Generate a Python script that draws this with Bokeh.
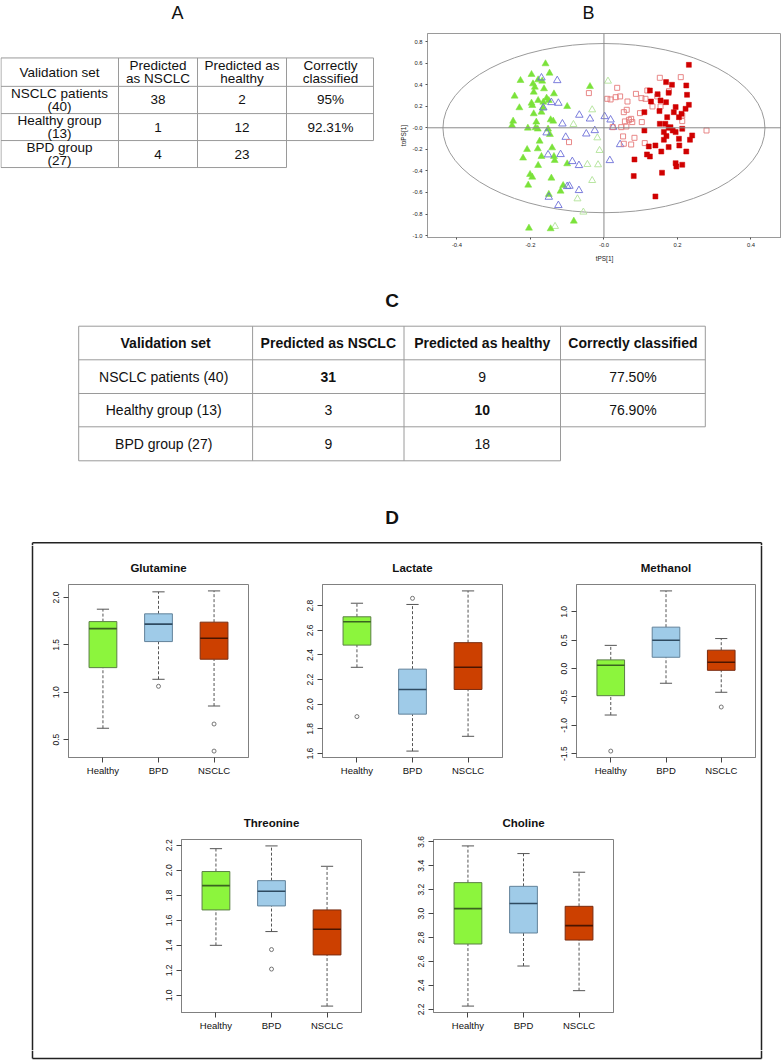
from bokeh.plotting import figure
from bokeh.layouts import row, column
from bokeh.models import Range1d, FixedTicker, Span, Spacer
from bokeh.core.properties import value
from bokeh.embed import file_html
from bokeh.resources import INLINE

FONT = "Liberation Sans"

# ---------------- Panel A / C tables ----------------
groups = ["NSCLC patients", "Healthy group", "BPD group"]
group_sizes = [40, 13, 27]
a_headers = [["Validation set"], ["Predicted", "as NSCLC"], ["Predicted as", "healthy"], ["Correctly", "classified"]]
a_pred_nsclc = [38, 1, 4]
a_pred_healthy = [2, 12, 23]
a_correct = ["95%", "92.31%", ""]

c_headers = ["Validation set", "Predicted as NSCLC", "Predicted as healthy", "Correctly classified"]
c_pred_nsclc = [31, 3, 9]
c_pred_healthy = [9, 10, 18]
c_correct = ["77.50%", "76.90%", ""]
c_bold = [(0, 1), (1, 2)]  # (row, column) cells in bold

# ---------------- Panel B scatter ----------------
train_healthy_x = [-0.159, -0.148, -0.197, -0.227, -0.179, -0.168, -0.193, -0.163, -0.191, -0.188,
                   -0.243, -0.136, -0.156, -0.179, -0.197, -0.165, -0.150, -0.230, -0.195, -0.100,
                   -0.166, -0.191, -0.170, -0.247, -0.250, -0.207, -0.184, -0.186, -0.180, -0.145,
                   -0.138, -0.152, -0.147, -0.175, -0.209, -0.180, -0.141, -0.220, -0.170, -0.136,
                   -0.134, -0.100, -0.179, -0.201, -0.195, -0.143, -0.206, -0.111, -0.118, -0.150,
                   -0.082, -0.204, -0.145, -0.038]
train_healthy_y = [0.594, 0.507, 0.495, 0.439, 0.445, 0.433, 0.408, 0.362, 0.331, 0.377,
                   0.294, 0.315, 0.275, 0.254, 0.229, 0.238, 0.254, 0.186, 0.207, 0.198,
                   0.186, 0.130, 0.145, 0.062, 0.022, -0.003, 0.053, 0.000, -0.012, 0.074,
                   0.062, -0.012, -0.062, -0.124, -0.201, -0.195, -0.186, -0.281, -0.266, -0.266,
                   -0.303, -0.334, -0.349, -0.433, -0.458, -0.467, -0.532, -0.535, -0.588, -0.618,
                   -0.866, -0.931, -0.937, 0.383]
bpd_x = [-0.170, -0.127, -0.124, -0.143, -0.165, -0.067, -0.038, -0.113, -0.025, -0.048,
         -0.104, -0.156, 0.018, 0.025, 0.044, -0.152, -0.118, -0.086, -0.068, 0.016,
         -0.100, -0.094, -0.068, -0.150, -0.124, 0.002]
bpd_y = [0.464, 0.439, 0.229, 0.235, 0.186, 0.118, 0.083, 0.037, -0.025, -0.056,
         -0.087, -0.046, 0.074, 0.006, -0.155, -0.250, -0.247, -0.312, -0.349, -0.303,
         -0.544, -0.541, -0.581, -0.643, -0.720, 0.105]
test_healthy_x = [0.011, -0.032, -0.083, -0.018, -0.012, -0.045, -0.016, -0.032, -0.072, -0.056, -0.133]
test_healthy_y = [0.433, 0.167, 0.031, -0.093, -0.210, -0.340, -0.343, -0.489, -0.659, -0.782, -0.915]
train_nsclc_x = [0.231, 0.169, 0.185, 0.224, 0.125, 0.146, 0.226, 0.176, 0.128, 0.154,
                 0.169, 0.195, 0.231, 0.222, 0.110, 0.151, 0.190, 0.211, 0.204, 0.172,
                 0.152, 0.167, 0.181, 0.187, 0.176, 0.163, 0.170, 0.195, 0.213, 0.110,
                 0.240, 0.234, 0.163, 0.204, 0.205, 0.140, 0.122, 0.176, 0.156, 0.224,
                 0.117, 0.125, 0.083, 0.195, 0.197, 0.213, 0.158, 0.081, 0.140]
train_nsclc_y = [0.584, 0.424, 0.399, 0.393, 0.346, 0.312, 0.306, 0.325, 0.244, 0.254,
                 0.238, 0.192, 0.213, 0.176, 0.145, 0.155, 0.145, 0.130, 0.099, 0.099,
                 0.037, 0.037, 0.006, -0.025, 0.000, -0.040, -0.077, -0.040, -0.009, -0.025,
                 -0.071, -0.111, -0.111, -0.102, -0.164, -0.164, -0.173, -0.179, -0.220, -0.220,
                 -0.247, -0.266, -0.294, -0.328, -0.359, -0.343, -0.417, -0.448, -0.637]
test_nsclc_x = [-0.041, 0.036, 0.044, 0.009, 0.018, 0.032, 0.064, 0.087, 0.102, 0.113,
                0.152, 0.177, 0.209, 0.118, 0.132, 0.062, 0.054, 0.068, 0.074, 0.047,
                0.061, 0.057, 0.103, 0.077, 0.052, 0.083, 0.054, 0.074, 0.213, 0.213,
                0.279, -0.095, 0.024, 0.154, 0.145, 0.111, 0.098]
test_nsclc_y = [0.322, 0.371, 0.291, 0.269, 0.263, 0.284, 0.244, 0.315, 0.275, 0.269,
                0.464, 0.340, 0.470, 0.346, 0.198, 0.167, 0.145, 0.074, 0.083, 0.006,
                0.012, 0.059, 0.053, 0.053, -0.080, -0.093, -0.148, -0.155, 0.114, 0.062,
                -0.025, -0.133, 0.006, 0.198, 0.291, -0.142, 0.136]
b_xticks = [-0.4, -0.2, 0.0, 0.2, 0.4]
b_xlabels = ["-0.4", "-0.2", "-0.0", "0.2", "0.4"]
b_yticks = [-1.0, -0.8, -0.6, -0.4, -0.2, 0.0, 0.2, 0.4, 0.6, 0.8]
b_ylabels = ["-1.0", "-0.8", "-0.6", "-0.4", "-0.2", "-0.0", "0.2", "0.4", "0.6", "0.8"]
ellipse_a = 0.438
ellipse_b = 0.785

# ---------------- Panel D box plots ----------------
categories = ["Healthy", "BPD", "NSCLC"]

glu_low = [0.62, 1.137, 0.855]
glu_q1 = [1.26, 1.535, 1.349]
glu_med = [1.672, 1.719, 1.57]
glu_q3 = [1.746, 1.828, 1.74]
glu_high = [1.877, 2.06, 2.07]
glu_out_cat = ["BPD", "NSCLC", "NSCLC"]
glu_out_val = [1.063, 0.665, 0.379]
glu_ticks = [0.5, 1.0, 1.5, 2.0]

lac_low = [2.30, 1.62, 1.74]
lac_q1 = [2.48, 1.92, 2.12]
lac_med = [2.67, 2.12, 2.30]
lac_q3 = [2.71, 2.285, 2.50]
lac_high = [2.82, 2.81, 2.92]
lac_out_cat = ["Healthy", "BPD"]
lac_out_val = [1.90, 2.86]
lac_ticks = [1.6, 1.8, 2.0, 2.2, 2.4, 2.6, 2.8]

met_low = [-0.818, -0.258, -0.417]
met_q1 = [-0.477, 0.20, -0.03]
met_med = [0.06, 0.50, 0.113]
met_q3 = [0.154, 0.731, 0.325]
met_high = [0.41, 1.37, 0.53]
met_out_cat = ["Healthy", "NSCLC"]
met_out_val = [-1.454, -0.677]
met_ticks = [-1.5, -1.0, -0.5, 0.0, 0.5, 1.0]

thr_low = [1.40, 1.51, 0.914]
thr_q1 = [1.683, 1.715, 1.323]
thr_med = [1.877, 1.832, 1.528]
thr_q3 = [1.99, 1.917, 1.683]
thr_high = [2.173, 2.195, 2.032]
thr_out_cat = ["BPD", "BPD"]
thr_out_val = [1.366, 1.21]
thr_ticks = [1.0, 1.2, 1.4, 1.6, 1.8, 2.0, 2.2]

cho_low = [2.227, 2.562, 2.356]
cho_q1 = [2.746, 2.838, 2.779]
cho_med = [3.042, 3.084, 2.90]
cho_q3 = [3.259, 3.228, 3.061]
cho_high = [3.566, 3.502, 3.346]
cho_out_cat = []
cho_out_val = []
cho_ticks = [2.2, 2.4, 2.6, 2.8, 3.0, 3.2, 3.4, 3.6]

BOX_FILL = ["#8cf53d", "#9fcbe8", "#cc4000"]
BOX_LINE = ["#5b7f45", "#62829a", "#7a2c10"]
MED_LINE = ["#3a6420", "#2e4a60", "#4a1500"]
TABLE_LINE = "#9a9a9a"

PAGE_W = 781


def canvas(x0, x1, y0, y1):
    p = figure(width=int(round(x1 - x0)), height=int(round(y1 - y0)),
               x_range=Range1d(x0, x1), y_range=Range1d(y1, y0),
               x_axis_type=None, y_axis_type=None, title=None,
               output_backend="svg", toolbar_location=None, min_border=0)
    p.outline_line_color = None
    p.xgrid.visible = False
    p.ygrid.visible = False
    return p


def txt(p, xs, ys, texts, size, bold=False, color="#111111", align="center"):
    p.text(x=xs, y=ys, text=texts, text_font=value(FONT), text_font_size=size,
           text_font_style="bold" if bold else "normal", text_color=color,
           text_align=align, text_baseline="middle")


# ---------- top strip with letters A and B ----------
top = canvas(0, PAGE_W, 0, 28)
txt(top, [177, 588], [12, 12], ["A", "B"], "18px")

# ---------- Panel A ----------
pa = canvas(0, 380, 28, 270)
a_cols = [0.5, 118, 197, 286, 373]
a_rows = [57, 90.7, 123, 155, 187]
hx0, hx1, hy = [], [], []
for i, yy in enumerate(a_rows):
    hx0.append(a_cols[0])
    hx1.append(a_cols[-1] if i < len(a_rows) - 1 else a_cols[3])
    hy.append(yy)
pa.segment(x0=hx0, y0=hy, x1=hx1, y1=hy, line_color=TABLE_LINE, line_width=1)
vx, vy0, vy1 = [], [], []
for j, xx in enumerate(a_cols):
    vx.append(xx)
    vy0.append(a_rows[0])
    vy1.append(a_rows[-1] if j < len(a_cols) - 1 else a_rows[3])
pa.segment(x0=vx, y0=vy0, x1=vx, y1=vy1, line_color=TABLE_LINE, line_width=1)
a_centers = [59, 157.5, 241.5, 330]
tx, ty, tt = [], [], []
hmid = (a_rows[0] + a_rows[1]) / 2
for j, lines in enumerate(a_headers):
    if len(lines) == 1:
        tx.append(a_centers[j]); ty.append(hmid); tt.append(lines[0])
    else:
        tx += [a_centers[j]] * 2; ty += [hmid - 7.5, hmid + 7.5]; tt += lines
for i in range(3):
    mid = (a_rows[i + 1] + a_rows[i + 2]) / 2
    tx += [a_centers[0], a_centers[0]]
    ty += [mid - 7.6, mid + 7.9]
    tt += [groups[i], "(%d)" % group_sizes[i]]
    tx += [a_centers[1], a_centers[2]]
    ty += [mid, mid]
    tt += [str(a_pred_nsclc[i]), str(a_pred_healthy[i])]
    if a_correct[i]:
        tx.append(a_centers[3]); ty.append(mid); tt.append(a_correct[i])
txt(pa, tx, ty, tt, "13.5px")

# ---------- Panel B ----------
pb = figure(width=PAGE_W - 380, height=242, x_range=Range1d(-0.480, 0.483), y_range=Range1d(-1.018, 0.875),
            min_border_left=47, min_border_right=0, min_border_top=5, min_border_bottom=33,
            output_backend="svg", toolbar_location=None, title=None)
pb.xgrid.visible = False
pb.ygrid.visible = False
pb.outline_line_color = "#9a9a9a"
pb.ellipse(x=[0.0], y=[-0.003], width=[2 * ellipse_a], height=[2 * ellipse_b],
           fill_color=None, line_color="#9a9a9a", line_width=1)
pb.add_layout(Span(location=0, dimension="height", line_color="#8a8a8a", line_width=1))
pb.add_layout(Span(location=0, dimension="width", line_color="#8a8a8a", line_width=1))
pb.scatter(test_healthy_x, test_healthy_y, marker="triangle", size=7, fill_color=None,
           line_color="#b9e6a2", line_width=1)
pb.scatter(train_healthy_x, train_healthy_y, marker="triangle", size=7, fill_color="#7be23a",
           line_color="#7be23a", line_width=0.5)
pb.scatter(bpd_x, bpd_y, marker="triangle", size=7.5, fill_color=None,
           line_color="#6d6fd8", line_width=0.9)
pb.scatter(test_nsclc_x, test_nsclc_y, marker="square", size=5, fill_color=None,
           line_color="#e57a7a", line_width=0.9)
pb.scatter(train_nsclc_x, train_nsclc_y, marker="square", size=5, fill_color="#d00000",
           line_color="#d00000", line_width=0.5)
for ax in (pb.xaxis[0], pb.yaxis[0]):
    ax.major_label_text_font = FONT
    ax.major_label_text_font_size = "5.8px"
    ax.major_label_text_color = "#222222"
    ax.axis_label_text_font = FONT
    ax.axis_label_text_font_size = "6.5px"
    ax.axis_label_text_font_style = "normal"
    ax.axis_label_text_color = "#222222"
    ax.axis_line_color = "#9a9a9a"
    ax.major_tick_line_color = "#555555"
    ax.major_tick_out = 2
    ax.major_tick_in = 0
    ax.minor_tick_line_color = None
    ax.major_label_standoff = 3
pb.xaxis.ticker = FixedTicker(ticks=b_xticks)
pb.xaxis.major_label_overrides = dict(zip(b_xticks, b_xlabels))
pb.yaxis.ticker = FixedTicker(ticks=b_yticks)
pb.yaxis.major_label_overrides = dict(zip(b_yticks, b_ylabels))
pb.xaxis.axis_label = "tPS[1]"
pb.yaxis.axis_label = "toPS[1]"
pb.xaxis.axis_label_standoff = 5
pb.yaxis.axis_label_standoff = 3

# ---------- Panel C ----------
pc = canvas(0, PAGE_W, 270, 505)
txt(pc, [391.7], [300], ["C"], "19px", bold=True)
c_cols = [78.2, 252.1, 403.5, 560, 704.8]
c_rows = [325.7, 359.3, 393, 426.3, 460.3]
hx0, hx1, hy = [], [], []
for i, yy in enumerate(c_rows):
    hx0.append(c_cols[0]); hy.append(yy)
    hx1.append(c_cols[-1] if i < len(c_rows) - 1 else c_cols[3])
pc.segment(x0=hx0, y0=hy, x1=hx1, y1=hy, line_color=TABLE_LINE, line_width=1)
vx, vy0, vy1 = [], [], []
for j, xx in enumerate(c_cols):
    vx.append(xx); vy0.append(c_rows[0])
    vy1.append(c_rows[-1] if j < len(c_cols) - 1 else c_rows[3])
pc.segment(x0=vx, y0=vy0, x1=vx, y1=vy1, line_color=TABLE_LINE, line_width=1)
c_centers = [(c_cols[k] + c_cols[k + 1]) / 2 for k in range(4)]
c_mids = [(c_rows[k] + c_rows[k + 1]) / 2 for k in range(4)]
txt(pc, c_centers, [c_mids[0]] * 4, c_headers, "14px", bold=True)
nx, ny, nt, bx, by, bt = [], [], [], [], [], []
for i in range(3):
    cells = ["%s  (%d)" % (groups[i], group_sizes[i]), str(c_pred_nsclc[i]), str(c_pred_healthy[i]), c_correct[i]]
    for j, cell in enumerate(cells):
        if not cell:
            continue
        if (i, j) in c_bold:
            bx.append(c_centers[j]); by.append(c_mids[i + 1]); bt.append(cell)
        else:
            nx.append(c_centers[j]); ny.append(c_mids[i + 1]); nt.append(cell)
txt(pc, nx, ny, nt, "14px")
txt(pc, bx, by, bt, "14px", bold=True)

# ---------- Panel D ----------
FRAME = "#222222"
dtop = canvas(0, PAGE_W, 505, 545)
txt(dtop, [391.5], [517], ["D"], "19px", bold=True)
dtop.segment(x0=[32, 32, 761], y0=[542.3, 542.3, 542.3], x1=[761, 32, 761], y1=[542.3, 545, 545],
             line_color=FRAME, line_width=1.5)
dleft = canvas(0, 36, 545, 1050)
dleft.segment(x0=[32], y0=[545], x1=[32], y1=[1050], line_color=FRAME, line_width=1.5)
dright = canvas(758, PAGE_W, 545, 1050)
dright.segment(x0=[761], y0=[545], x1=[761], y1=[1050], line_color=FRAME, line_width=1.5)
dbot = canvas(0, PAGE_W, 1050, 1062)
dbot.segment(x0=[32, 32, 761], y0=[1058, 1050, 1050], x1=[761, 32, 761], y1=[1058, 1058, 1058],
             line_color=FRAME, line_width=1.5)


def boxplot(title, low, q1, med, q3, high, out_cat, out_val, yticks, w, h, bl, br, bt, bb):
    vals = low + high + out_val
    lo, hi = min(vals), max(vals)
    pad = 0.04 * (hi - lo)
    p = figure(width=w, height=h, x_range=Range1d(0.38, 3.62), y_range=Range1d(lo - pad, hi + pad),
               min_border_left=bl, min_border_right=br, min_border_top=bt, min_border_bottom=bb,
               output_backend="svg", toolbar_location=None, title=title)
    p.xgrid.visible = False
    p.ygrid.visible = False
    p.outline_line_color = "#808080"
    xs = [i + 1 for i in range(len(categories))]
    p.segment(x0=xs, y0=q3, x1=xs, y1=high, line_color="#555555", line_dash="3 2", line_width=1)
    p.segment(x0=xs, y0=low, x1=xs, y1=q1, line_color="#555555", line_dash="3 2", line_width=1)
    p.segment(x0=[x - 0.11 for x in xs] * 2, y0=high + low, x1=[x + 0.11 for x in xs] * 2, y1=high + low,
              line_color="#555555", line_width=1)
    p.vbar(x=xs, width=0.5, bottom=q1, top=q3, fill_color=BOX_FILL, line_color=BOX_LINE, line_width=1)
    p.segment(x0=[x - 0.25 for x in xs], y0=med, x1=[x + 0.25 for x in xs], y1=med,
              line_color=MED_LINE, line_width=1.6)
    if out_val:
        ox = [categories.index(c) + 1 for c in out_cat]
        p.scatter(ox, out_val, marker="circle", size=4, fill_color=None, line_color="#555555", line_width=0.8)
    p.title.align = "center"
    p.title.text_font = FONT
    p.title.text_font_size = "11.5px"
    p.title.text_font_style = "bold"
    p.title.text_color = "#111111"
    p.title.standoff = 21
    for ax in (p.xaxis[0], p.yaxis[0]):
        ax.axis_line_color = "#808080"
        ax.major_tick_line_color = "#444444"
        ax.major_tick_out = 5
        ax.major_tick_in = 0
        ax.minor_tick_line_color = None
        ax.major_label_text_font = FONT
        ax.major_label_text_color = "#111111"
        ax.major_label_standoff = 4
    p.xaxis.major_label_standoff = 2
    p.xaxis.ticker = FixedTicker(ticks=xs)
    p.xaxis.major_label_overrides = {x: c for x, c in zip(xs, categories)}
    p.xaxis.major_label_text_font_size = "9.5px"
    p.yaxis.ticker = FixedTicker(ticks=yticks)
    p.yaxis.major_label_overrides = {t: "%.1f" % t for t in yticks}
    p.yaxis.major_label_text_font_size = "8.5px"
    p.yaxis.major_label_orientation = "vertical"
    return p


glu = boxplot("Glutamine", glu_low, glu_q1, glu_med, glu_q3, glu_high, glu_out_cat, glu_out_val,
              glu_ticks, 249, 250, 32, 37, 39, 38)
lac = boxplot("Lactate", lac_low, lac_q1, lac_med, lac_q3, lac_high, lac_out_cat, lac_out_val,
              lac_ticks, 255, 250, 37, 38, 39, 38)
met = boxplot("Methanol", met_low, met_q1, met_med, met_q3, met_high, met_out_cat, met_out_val,
              met_ticks, 218, 250, 36, 3, 39, 38)
thr = boxplot("Threonine", thr_low, thr_q1, thr_med, thr_q3, thr_high, thr_out_cat, thr_out_val,
              thr_ticks, 260, 255, 41, 39, 44, 38)
cho = boxplot("Choline", cho_low, cho_q1, cho_med, cho_q3, cho_high, cho_out_cat, cho_out_val,
              cho_ticks, 240, 255, 33, 27, 44, 38)

drow1 = row(glu, lac, met)
drow2 = row(Spacer(width=104, height=255), thr, cho, Spacer(width=118, height=255))
dbody = row(dleft, column(drow1, drow2), dright)

layout = column(top, row(pa, pb), pc, dtop, dbody, dbot)

open("out.html", "w").write(file_html(layout, INLINE))
